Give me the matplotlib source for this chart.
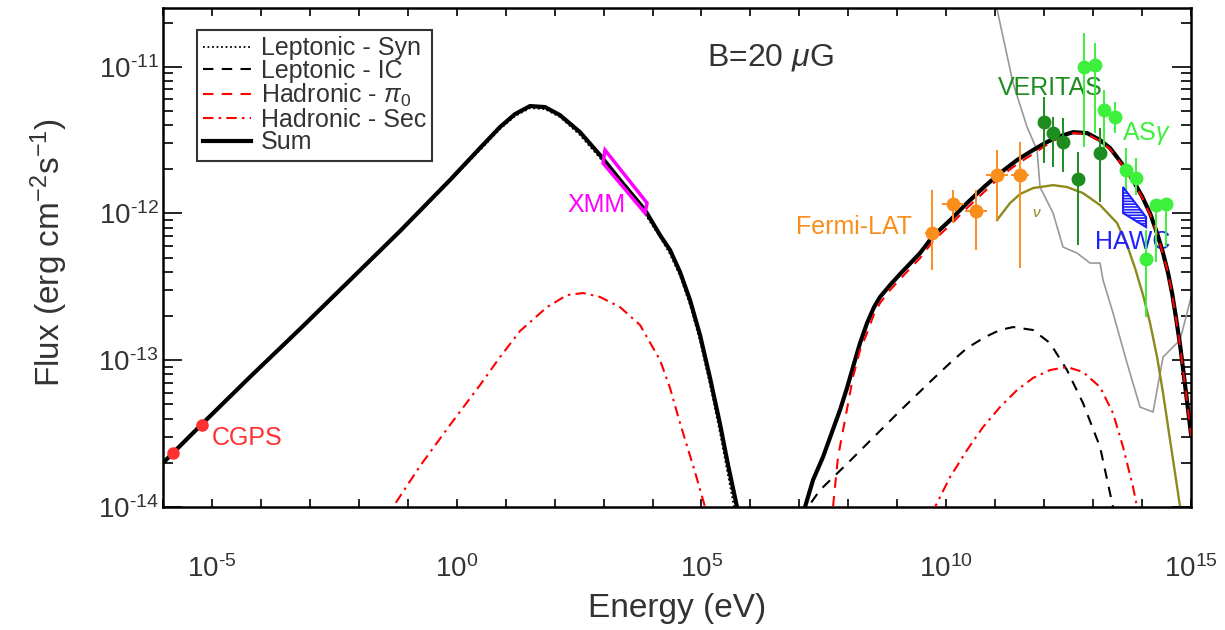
import numpy as np
import matplotlib.pyplot as plt
from matplotlib.patches import Polygon
from matplotlib.ticker import FixedLocator, FuncFormatter, LogLocator, NullFormatter

plt.rcParams['font.family'] = ['Liberation Sans', 'DejaVu Sans']
plt.rcParams['mathtext.fontset'] = 'custom'
plt.rcParams['mathtext.rm'] = 'Liberation Sans'
plt.rcParams['mathtext.it'] = 'Liberation Sans:italic'
plt.rcParams['hatch.linewidth'] = 1.2

# model curves: log10(E / eV), log10(flux / erg cm^-2 s^-1)
syn_logE = [-6.0, -5.244, -4.223, -3.201, -2.180, -1.158, -0.137, 0.476, 0.885, 1.191, 1.497,
            1.804, 2.110, 2.519, 2.927, 3.336, 3.847, 4.153, 4.357, 4.562, 4.766, 4.970, 5.175,
            5.379, 5.522, 5.685]
syn_logF = [-13.700, -13.448, -13.114, -12.787, -12.454, -12.120, -11.779, -11.568, -11.425,
            -11.337, -11.282, -11.289, -11.343, -11.466, -11.623, -11.793, -12.004, -12.161,
            -12.277, -12.426, -12.624, -12.869, -13.169, -13.496, -13.748, -14.034]

sum_logE = [-6.0, -5.244, -4.223, -3.201, -2.180, -1.158, -0.137, 0.476, 0.885, 1.191, 1.497,
            1.804, 2.110, 2.519, 2.927, 3.336, 3.847, 4.153, 4.357, 4.562, 4.766, 4.970, 5.175,
            5.379, 5.543, 5.726, 5.787,
            7.054, 7.115, 7.279, 7.483, 7.667, 7.830, 7.973, 8.096, 8.239, 8.382, 8.525, 8.648,
            8.852, 9.056, 9.465, 9.730, 10.078, 10.425, 10.793, 11.099, 11.447, 11.773, 12.018,
            12.264, 12.590, 12.876, 13.142, 13.346, 13.489, 13.653, 13.816, 14.000, 14.164,
            14.307, 14.429, 14.532, 14.613, 14.695, 14.777, 14.879, 15.002]
sum_logF = [-13.700, -13.448, -13.114, -12.787, -12.454, -12.120, -11.772, -11.554, -11.411,
            -11.323, -11.268, -11.275, -11.330, -11.446, -11.602, -11.772, -11.977, -12.147,
            -12.249, -12.399, -12.590, -12.828, -13.121, -13.435, -13.714, -14.000, -14.123,
            -14.123, -14.000, -13.816, -13.659, -13.489, -13.339, -13.189, -13.046, -12.883,
            -12.747, -12.638, -12.569, -12.488, -12.413, -12.270, -12.154, -12.046, -11.929,
            -11.813, -11.725, -11.636, -11.568, -11.520, -11.480, -11.446, -11.452, -11.500,
            -11.554, -11.616, -11.691, -11.774, -11.883, -11.999, -12.134, -12.270, -12.406,
            -12.542, -12.713, -12.896, -13.169, -13.510]

ic_logE = [7.136, 7.177, 7.422, 7.973, 8.648, 9.056, 9.730, 10.078, 10.425, 10.793, 11.099,
           11.365, 11.773, 12.120, 12.467, 12.794, 13.142, 13.407, 13.448]
ic_logF = [-14.089, -14.000, -13.884, -13.706, -13.481, -13.345, -13.128, -13.019, -12.917,
           -12.842, -12.794, -12.774, -12.794, -12.883, -13.067, -13.292, -13.591, -14.000,
           -14.089]

pi0_logE = [7.646, 7.687, 7.789, 7.932, 8.096, 8.239, 8.382, 8.525, 8.648, 8.852, 9.056, 9.465,
            9.730, 10.078, 10.425, 10.793, 11.099, 11.447, 11.773, 12.018, 12.264, 12.590,
            12.876, 13.142, 13.346, 13.489, 13.653, 13.816, 14.000, 14.164, 14.307, 14.429,
            14.532, 14.613, 14.695, 14.777, 14.879, 15.002]
pi0_logF = [-14.123, -14.000, -13.659, -13.406, -13.114, -12.931, -12.815, -12.685, -12.610,
            -12.522, -12.447, -12.304, -12.188, -12.079, -11.963, -11.847, -11.752, -11.663,
            -11.595, -11.540, -11.493, -11.452, -11.459, -11.507, -11.561, -11.623, -11.698,
            -11.781, -11.890, -12.006, -12.140, -12.277, -12.406, -12.549, -12.719, -12.903,
            -13.175, -13.516]

sec_logE = [-1.363, -1.301, -0.750, -0.137, 0.476, 0.885, 1.293, 1.845, 2.253, 2.580, 2.927,
            3.336, 3.745, 4.153, 4.357, 4.562, 4.868, 5.073, 5.134,
            9.730, 9.771, 10.078, 10.425, 10.752, 11.099, 11.447, 11.773, 12.120, 12.467,
            12.794, 13.142, 13.407, 13.612, 13.816, 13.898, 13.939]
sec_logF = [-14.123, -14.000, -13.721, -13.441, -13.169, -12.978, -12.801, -12.638, -12.556,
            -12.542, -12.569, -12.638, -12.760, -12.999, -13.189, -13.428, -13.762, -14.000,
            -14.089,
            -14.089, -14.000, -13.796, -13.612, -13.455, -13.319, -13.203, -13.121, -13.067,
            -13.046, -13.080, -13.183, -13.360, -13.591, -13.864, -14.000, -14.089]

nu_logE = [11.038, 11.303, 11.508, 11.773, 12.182, 12.467, 12.794, 13.142, 13.489, 13.693,
           13.857, 14.020, 14.164, 14.307, 14.429, 14.572, 14.695, 14.777, 14.818]
nu_logF = [-12.045, -11.929, -11.868, -11.827, -11.807, -11.820, -11.861, -11.943, -12.065,
           -12.215, -12.372, -12.556, -12.747, -12.978, -13.223, -13.544, -13.816, -14.000,
           -14.089]

sens_logE = [10.997, 11.365, 11.651, 11.855, 11.916, 12.182, 12.386, 12.672, 12.938, 13.142,
             13.203, 13.407, 13.693, 13.959, 14.225, 14.429, 14.777, 15.002]
sens_logF = [-10.546, -11.112, -11.411, -11.568, -11.820, -11.997, -12.229, -12.270, -12.338,
             -12.338, -12.454, -12.678, -13.019, -13.319, -13.353, -12.978, -12.862, -12.569]

# data points (log10 values)
cgps_logE = [-5.796, -5.203]
cgps_logF = [-13.632, -13.441]
cgps_lo = [-13.640, -13.475]
cgps_hi = [-13.624, -13.407]

xmm_logE = [3.030, 3.888, 3.847, 2.989]
xmm_logF = [-11.568, -11.929, -11.997, -11.657]

fermi_logE = [9.71, 10.14, 10.61, 11.04, 11.51]
fermi_logF = [-12.134, -11.936, -11.984, -11.738, -11.738]
fermi_lo = [-12.386, -12.065, -12.249, -12.045, -12.372]
fermi_hi = [-11.841, -11.841, -11.841, -11.568, -11.514]
fermi_dlogE = [0.15, 0.22, 0.22, 0.22, 0.18]

veritas_logE = [12.00, 12.18, 12.39, 12.69, 13.14]
veritas_logF = [-11.377, -11.452, -11.514, -11.766, -11.589]
veritas_lo = [-11.657, -11.684, -11.718, -12.215, -11.922]
veritas_hi = [-11.207, -11.343, -11.349, -11.582, -11.418]

asg_logE = [12.815, 13.04, 13.22, 13.45, 13.67, 13.88, 14.08, 14.29, 14.49]
asg_logF = [-11.003, -10.989, -11.296, -11.343, -11.704, -11.759, -12.311, -11.943, -11.936]
asg_lo = [-11.548, -11.452, -11.568, -11.452, -11.841, -11.875, -12.706, -12.331, -12.229]
asg_hi = [-10.771, -10.839, -11.159, -11.241, -11.554, -11.623, -12.113, -11.909, -11.895]

hawc_logE = [13.612, 14.082, 14.082, 13.612]
hawc_logF = [-11.820, -12.025, -12.093, -11.997]


def p(v):
    return 10.0 ** np.asarray(v)


def yerr(f, lo, hi):
    f, lo, hi = p(f), p(lo), p(hi)
    return [f - lo, hi - f]


def pow_label(v, pos):
    n = int(round(np.log10(v)))
    if n < 0:
        return r'$10^{\text{-}%d}$' % -n
    return r'$10^{%d}$' % n


fig = plt.figure(figsize=(12.25, 6.3), dpi=100)
ax = fig.add_axes([163 / 1225, 1 - 507 / 630, 1028 / 1225, 499 / 630])
ax.set_xscale('log')
ax.set_yscale('log')

red = '#ff0000'
ax.plot(p(sens_logE), p(sens_logF), color='#999999', lw=1.2, zorder=2)
ax.plot(p(nu_logE), p(nu_logF), color='#8c8a1c', lw=1.7, zorder=2)
ax.plot(p(syn_logE), p(syn_logF), color='black', lw=1.3, ls=(0, (1, 1.5)), zorder=3,
        label='Leptonic - Syn')
ax.plot(p(ic_logE), p(ic_logF), color='black', lw=1.5, ls=(0, (5, 4)), zorder=3,
        label='Leptonic - IC')
ax.plot(p(sum_logE), p(sum_logF), color='black', lw=3.0, zorder=4, label='Sum')
ax.plot(p(pi0_logE), p(pi0_logF), color=red, lw=1.5, ls=(0, (5, 4)), zorder=5,
        label=r'Hadronic - $\pi_0$')
ax.plot(p(sec_logE), p(sec_logF), color=red, lw=1.5, ls=(0, (5, 2.5, 1.2, 2.5)), zorder=3,
        label='Hadronic - Sec')

# data
ax.errorbar(p(cgps_logE), p(cgps_logF), yerr=yerr(cgps_logF, cgps_lo, cgps_hi), fmt='o',
            color='#ff3030', ms=8, elinewidth=1.5, zorder=6)
ax.add_patch(Polygon(np.column_stack([p(xmm_logE), p(xmm_logF)]), closed=True, fill=False,
                     edgecolor='#ff00ff', lw=2.5, zorder=6))
fe = p(fermi_logE)
fxerr = [fe - p(np.subtract(fermi_logE, fermi_dlogE)), p(np.add(fermi_logE, fermi_dlogE)) - fe]
ax.errorbar(fe, p(fermi_logF), xerr=fxerr, yerr=yerr(fermi_logF, fermi_lo, fermi_hi), fmt='o',
            color='#f98e1d', ms=9, elinewidth=1.4, zorder=6)
ax.errorbar(p(veritas_logE), p(veritas_logF), yerr=yerr(veritas_logF, veritas_lo, veritas_hi),
            fmt='o', color='#1e8c1e', ms=9, elinewidth=1.4, zorder=6)
ax.errorbar(p(asg_logE), p(asg_logF), yerr=yerr(asg_logF, asg_lo, asg_hi), fmt='o',
            color='#3cf03c', ms=9, elinewidth=1.4, zorder=6)
ax.add_patch(Polygon(np.column_stack([p(hawc_logE), p(hawc_logF)]), closed=True, fill=False,
                     edgecolor='#2020ff', lw=1.5, hatch='------', zorder=6))

# labels on the plot
fs = 18
ax.text(1e-5, p(-13.53), 'CGPS', color='#ff3030', fontsize=fs, ha='left', va='center')
ax.text(p(3.44), p(-11.943), 'XMM', color='#ff00ff', fontsize=fs, ha='right', va='center')
ax.text(p(9.30), p(-12.093), 'Fermi-LAT', color='#f98e1d', fontsize=fs, ha='right', va='center')
ax.text(p(12.12), p(-11.146), 'VERITAS', color='#1e8c1e', fontsize=fs, ha='center', va='center')
ax.text(p(13.59), p(-11.452), r'AS$\gamma$', color='#3cf03c', fontsize=fs, ha='left', va='center')
ax.text(p(13.04), p(-12.195), 'HAWC', color='#2020ff', fontsize=fs, ha='left', va='center')
ax.text(p(11.855), p(-11.997), r'$\nu$', color='#8c8a1c', fontsize=11, ha='center', va='center')
ax.text(p(6.40), p(-10.935), r'B=20 $\mu$G', color='#333333', fontsize=23, ha='center',
        va='center')

ax.set_xlim(1e-6, 1e15)
ax.set_ylim(1e-14, p(-10.60))

ax.xaxis.set_major_locator(FixedLocator([1e-5, 1e0, 1e5, 1e10, 1e15]))
ax.xaxis.set_minor_locator(LogLocator(base=10, subs=(1.0,), numticks=40))
ax.xaxis.set_minor_formatter(NullFormatter())
ax.xaxis.set_major_formatter(FuncFormatter(pow_label))
ax.yaxis.set_major_locator(FixedLocator([1e-14, 1e-13, 1e-12, 1e-11]))
ax.yaxis.set_minor_locator(LogLocator(base=10, subs=np.arange(2, 10), numticks=40))
ax.yaxis.set_minor_formatter(NullFormatter())
ax.yaxis.set_major_formatter(FuncFormatter(pow_label))

ax.tick_params(axis='both', which='both', direction='in', top=True, right=True,
               colors='black', labelcolor='#333333', width=1.2, labelsize=20)
ax.tick_params(axis='x', which='both', length=6, pad=35)
ax.tick_params(axis='y', which='major', length=14, pad=3)
ax.tick_params(axis='y', which='minor', length=7)
for s in ax.spines.values():
    s.set_linewidth(1.8)

ax.set_xlabel('Energy (eV)', fontsize=24, color='#333333')
ax.xaxis.set_label_coords(0.5, -0.172)
ax.set_ylabel(r'Flux (erg cm$^{-2}$s$^{-1}$)', fontsize=24, color='#333333')
ax.yaxis.set_label_coords(-0.090, 0.51)

handles, labels = ax.get_legend_handles_labels()
order = ['Leptonic - Syn', 'Leptonic - IC', r'Hadronic - $\pi_0$', 'Hadronic - Sec', 'Sum']
hmap = dict(zip(labels, handles))
leg = ax.legend([hmap[k] for k in order], order, loc='upper left',
                bbox_to_anchor=(34 / 1028, 477 / 499), borderaxespad=0, fontsize=18,
                frameon=True, fancybox=False, edgecolor='black', labelspacing=-0.05,
                handlelength=1.9, handletextpad=0.4, borderpad=0.25, labelcolor='#333333')
leg.get_frame().set_linewidth(1.5)

fig.savefig('out.png', dpi=100)
